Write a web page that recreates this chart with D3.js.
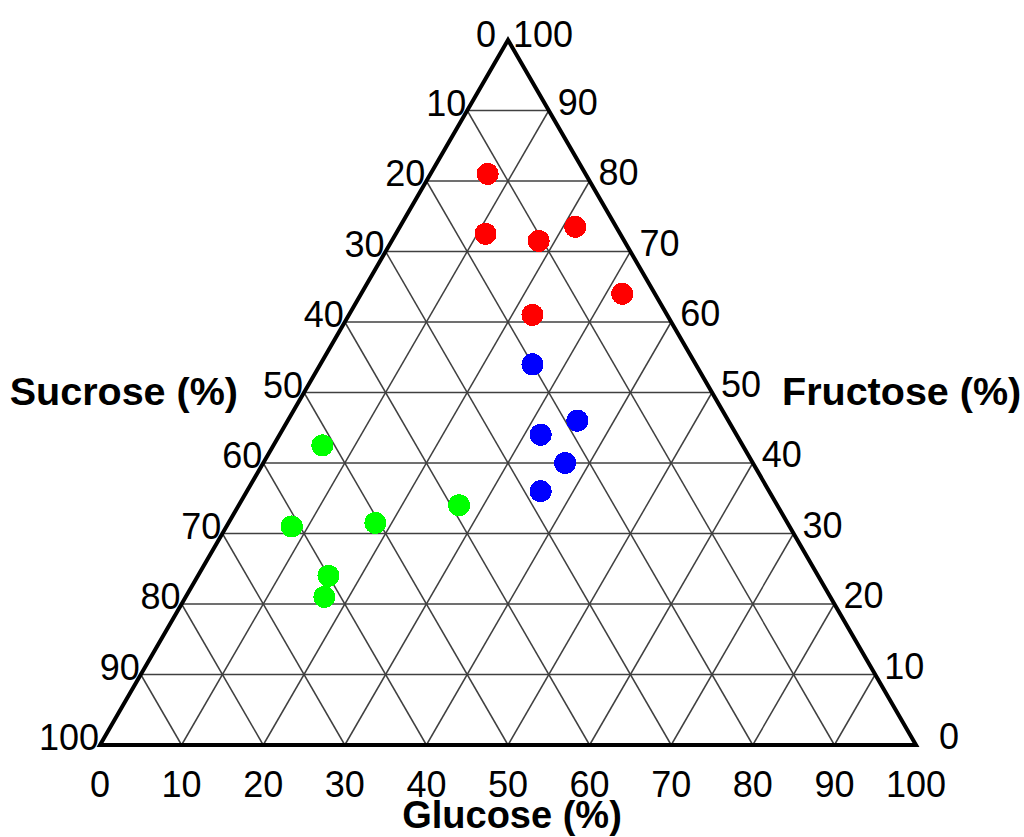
<!DOCTYPE html>
<html>
<head>
<meta charset="utf-8">
<script src="https://cdn.jsdelivr.net/npm/d3@7"></script>
<style>
  html, body { margin: 0; padding: 0; background: #fff; }
  svg { display: block; }
  text { font-family: "Liberation Sans", Arial, sans-serif; fill: #000; }
</style>
</head>
<body>
<svg id="chart" width="1024" height="837"></svg>
<script>
// Sugar composition (%) of each sample: glucose, fructose, sucrose
const redGlucose   = [7, 11, 18, 21.5, 32, 22.5];
const redFructose  = [81, 72.5, 71.5, 73.5, 64, 61];
const redSucrose   = [12, 16.5, 10.5, 5, 4, 16.5];

const blueGlucose  = [26, 35.5, 32, 37, 36];
const blueFructose = [54, 46, 44, 40, 36];
const blueSucrose  = [20, 18.5, 24, 23, 28];

const greenGlucose  = [6, 8, 18, 27, 16, 17];
const greenFructose = [42.5, 31, 31.5, 34, 24, 21];
const greenSucrose  = [51.5, 61, 50.5, 39, 60, 62];

const seriesColors = ["#ff0000", "#0000ff", "#00ff00"];

const tickValues = [0, 10, 20, 30, 40, 50, 60, 70, 80, 90, 100];
const gridValues = [10, 20, 30, 40, 50, 60, 70, 80, 90];

const axisTitles = { left: "Sucrose (%)", right: "Fructose (%)", bottom: "Glucose (%)" };

// Build the point table from the component arrays
function buildSeries(g, f, s, color) {
  return g.map((_, i) => ({ glucose: g[i], fructose: f[i], sucrose: s[i], color }));
}
const points = [
  ...buildSeries(redGlucose, redFructose, redSucrose, seriesColors[0]),
  ...buildSeries(blueGlucose, blueFructose, blueSucrose, seriesColors[1]),
  ...buildSeries(greenGlucose, greenFructose, greenSucrose, seriesColors[2])
];

const svg = d3.select("#chart");

// Triangle frame: glucose runs along the base, fructose up to the apex
const x = d3.scaleLinear().domain([0, 100]).range([100, 916]);
const y = d3.scaleLinear().domain([0, 100]).range([745, 40]);

// ternary (glucose, fructose) -> screen
function proj(g, f) {
  return [x(g + f / 2), y(f)];
}
function projPoint(d) {
  const total = d.glucose + d.fructose + d.sucrose;
  const g = d.glucose / total * 100;
  const f = d.fructose / total * 100;
  return proj(g, f);
}

// Grid lines
const gridSegs = [];
gridValues.forEach(v => {
  // constant fructose (horizontal)
  gridSegs.push([proj(0, v), proj(100 - v, v)]);
  // constant glucose (parallel to left edge)
  gridSegs.push([proj(v, 0), proj(v, 100 - v)]);
  // constant sucrose (parallel to right edge)
  gridSegs.push([proj(100 - v, 0), proj(0, 100 - v)]);
});

svg.append("g")
  .selectAll("line")
  .data(gridSegs)
  .join("line")
  .attr("x1", d => d[0][0]).attr("y1", d => d[0][1])
  .attr("x2", d => d[1][0]).attr("y2", d => d[1][1])
  .attr("stroke", "#404040")
  .attr("stroke-width", 1.5);

// Outer triangle
const corners = [proj(0, 0), proj(100, 0), proj(0, 100)];
svg.append("path")
  .attr("d", d3.line()(corners) + "Z")
  .attr("fill", "none")
  .attr("stroke", "#000")
  .attr("stroke-width", 4)
  .attr("stroke-linejoin", "miter");

// Tick labels
const tickFont = 36;
const labels = svg.append("g").attr("font-size", tickFont);

// Sucrose along the left edge: 0 at apex, 100 at bottom-left
labels.selectAll("text.left")
  .data(tickValues)
  .join("text")
  .attr("class", "left")
  .attr("text-anchor", "end")
  .attr("x", s => proj(0, 100 - s)[0] - (s === 0 ? 12 : 1))
  .attr("y", s => proj(0, 100 - s)[1] + (s === 0 ? 7 : 5))
  .text(s => s);

// Fructose along the right edge: 0 at bottom-right, 100 at apex
labels.selectAll("text.right")
  .data(tickValues)
  .join("text")
  .attr("class", "right")
  .attr("text-anchor", "start")
  .attr("x", f => proj(100 - f, f)[0] + (f === 0 ? 23 : f === 100 ? 5 : 9))
  .attr("y", f => proj(100 - f, f)[1] + (f === 100 ? 7 : 4))
  .text(f => f);

// Glucose along the base
labels.selectAll("text.bottom")
  .data(tickValues)
  .join("text")
  .attr("class", "bottom")
  .attr("text-anchor", "middle")
  .attr("x", g => x(g))
  .attr("y", 797)
  .text(g => g);

// Axis titles
const titles = svg.append("g").attr("font-weight", "bold");
titles.append("text").attr("font-size", 39.5).attr("text-anchor", "end").attr("x", 238).attr("y", 405).text(axisTitles.left);
titles.append("text").attr("font-size", 39.5).attr("text-anchor", "start").attr("x", 782).attr("y", 405).text(axisTitles.right);
titles.append("text").attr("font-size", 38).attr("text-anchor", "middle").attr("x", 512).attr("y", 828).text(axisTitles.bottom);

// Sample markers
svg.append("g")
  .selectAll("circle")
  .data(points)
  .join("circle")
  .attr("cx", d => projPoint(d)[0])
  .attr("cy", d => projPoint(d)[1])
  .attr("r", 11)
  .attr("fill", d => d.color)
  .attr("shape-rendering", "crispEdges");
</script>
</body>
</html>
